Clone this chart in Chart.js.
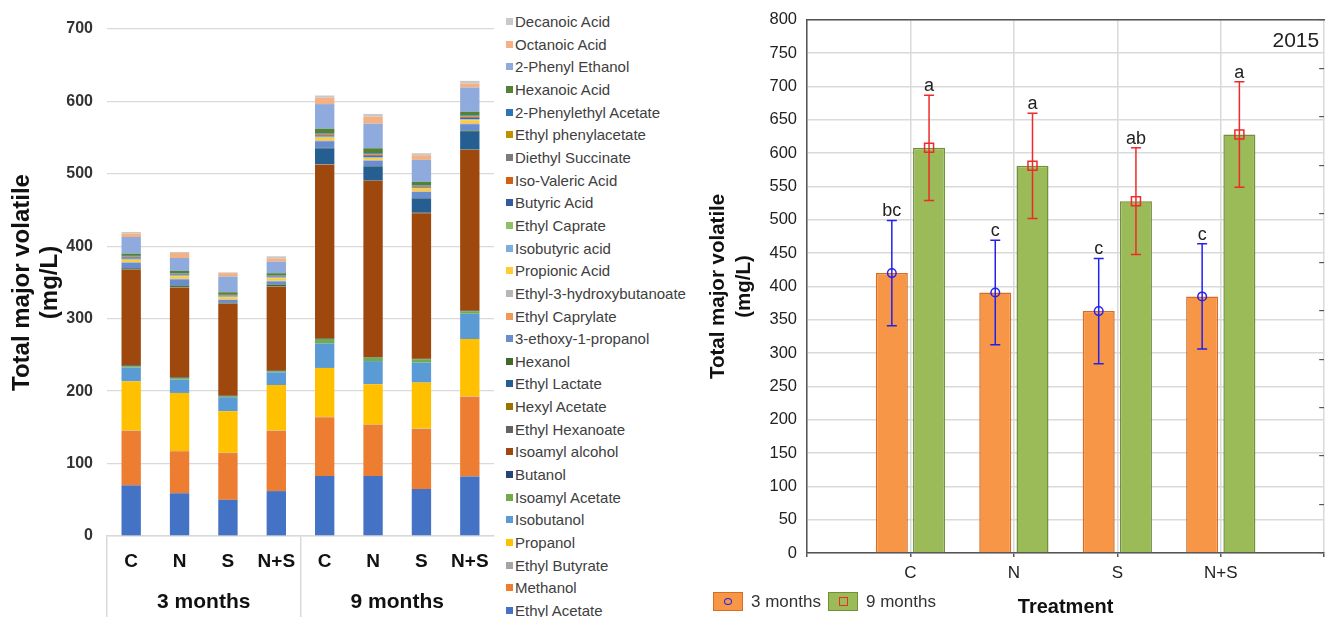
<!DOCTYPE html>
<html>
<head>
<meta charset="utf-8">
<script src="https://cdn.jsdelivr.net/npm/chart.js@4.4.1/dist/chart.umd.min.js"></script>
<style>
html,body{margin:0;padding:0;background:#fff;width:1326px;height:617px;overflow:hidden;position:relative;font-family:"Liberation Sans",Arial,sans-serif;}
#leftWrap{position:absolute;left:0;top:0;width:497px;height:617px;}
#rightWrap{position:absolute;left:690px;top:0;width:640px;height:617px;}
#legend1{position:absolute;left:506px;top:10.4px;font-size:15px;color:#404040;}
#legend1 .li{height:22.65px;display:flex;align-items:center;white-space:nowrap;}
#legend1 .sw{width:7px;height:7px;margin-right:2px;flex:none;}
.lg2box{position:absolute;top:592px;width:28px;height:17px;display:flex;align-items:center;justify-content:center;}
.lg2txt{position:absolute;top:592px;height:20px;line-height:20px;font-size:17px;color:#333;white-space:nowrap;}
</style>
</head>
<body>
<div id="leftWrap"><canvas id="c1" width="497" height="617"></canvas></div>
<div id="legend1"></div>
<div id="rightWrap"><canvas id="c2" width="640" height="617"></canvas></div>
<div id="legend2"></div>
<script>
// ---------- Left panel data ----------
const categories = ['C','N','S','N+S','C','N','S','N+S'];
const periods = ['3 months','9 months'];

const compoundNames = ['Ethyl Acetate','Methanol','Ethyl Butyrate','Propanol','Isobutanol','Isoamyl Acetate','Butanol','Isoamyl alcohol','Ethyl Hexanoate','Hexyl Acetate','Ethyl Lactate','Hexanol','3-ethoxy-1-propanol','Ethyl Caprylate','Ethyl-3-hydroxybutanoate','Propionic Acid','Isobutyric acid','Ethyl Caprate','Butyric Acid','Iso-Valeric Acid','Diethyl Succinate','Ethyl phenylacetate','2-Phenylethyl Acetate','Hexanoic Acid','2-Phenyl Ethanol','Octanoic Acid','Decanoic Acid'];
const compoundColors = ['#4472C4','#ED7D31','#A5A5A5','#FFC000','#5B9BD5','#70AD47','#264478','#9E480E','#636363','#997300','#255E91','#43682B','#698ED0','#F1975A','#B7B7B7','#FFCD33','#7CAFDD','#8CC168','#335AA1','#D26012','#7C7C7C','#BF9000','#2E75B6','#548235','#8FAADC','#F4B183','#C9C9C9'];

const ethylAcetate       = [70, 59, 50, 62, 83, 83, 65, 82];
const methanol           = [75, 58, 64.5, 83, 81, 70.5, 82.8, 110.4];
const ethylButyrate      = [0.5, 0.5, 0.4, 0.5, 0.5, 0.5, 0.5, 0.5];
const propanol           = [68, 80, 57.4, 63, 67.5, 55.5, 63.5, 79];
const isobutanol         = [19, 18.5, 19.4, 17.5, 34, 32, 27.7, 35];
const isoamylAcetate     = [2, 2, 1.4, 1.5, 6, 4.6, 4.6, 3.2];
const butanol            = [1, 0.8, 0.5, 0.7, 0.7, 0.6, 0.6, 0.9];
const isoamylAlcohol     = [132, 124, 127, 116, 240, 243.4, 201, 222];
const ethylHexanoate     = [0.3, 0.3, 0.2, 0.2, 0.3, 0.3, 0.3, 0.3];
const hexylAcetate       = [0.3, 0.3, 0.2, 0.2, 0.3, 0.3, 0.3, 0.3];
const ethylLactate       = [0.8, 0.5, 0.3, 0.4, 22, 19.3, 19.6, 24.4];
const hexanol            = [1, 2, 0.5, 2, 0.8, 0.8, 0.8, 1.4];
const ethoxyPropanol     = [7.5, 8.5, 4.2, 4.6, 9, 7.4, 8.3, 9.2];
const ethylCaprylate     = [0.5, 0.5, 0.4, 0.4, 0.8, 0.6, 0.6, 0.8];
const ethyl3HB           = [0.5, 0.5, 0.4, 0.6, 0.6, 0.6, 0.6, 0.6];
const propionicAcid      = [3, 3.2, 3, 3.2, 3.5, 2.5, 3.5, 4.1];
const isobutyricAcid     = [1, 0.8, 0.6, 1, 1, 1, 0.8, 1.2];
const ethylCaprate       = [0.5, 0.4, 0.4, 0.3, 0.5, 0.5, 0.4, 0.5];
const butyricAcid        = [1.5, 1.2, 0.8, 1, 1.5, 1.5, 1, 1.5];
const isoValericAcid     = [0.8, 0.6, 0.5, 0.5, 1.5, 1.5, 1, 1.5];
const diethylSuccinate   = [0.5, 0.4, 0.3, 0.3, 0.5, 0.5, 0.4, 0.5];
const ethylPhenylacetate = [0.3, 0.2, 0.2, 0.2, 0.3, 0.3, 0.2, 0.3];
const phenylethylAcetate = [0.8, 0.6, 0.5, 0.5, 1, 1.2, 0.8, 1];
const hexanoicAcid       = [3, 3.2, 3.4, 3.2, 6, 6.9, 4.6, 5];
const phenylEthanol      = [23, 17.8, 21.8, 16, 34, 34, 30.4, 33.6];
const octanoicAcid       = [5, 6.9, 4.7, 4.6, 8.7, 9.7, 6.4, 5.5];
const decanoicAcid       = [2, 1.4, 1, 2.8, 3.2, 3.7, 2.8, 3.7];

const compoundValues = [ethylAcetate, methanol, ethylButyrate, propanol, isobutanol, isoamylAcetate, butanol, isoamylAlcohol, ethylHexanoate, hexylAcetate, ethylLactate, hexanol, ethoxyPropanol, ethylCaprylate, ethyl3HB, propionicAcid, isobutyricAcid, ethylCaprate, butyricAcid, isoValericAcid, diethylSuccinate, ethylPhenylacetate, phenylethylAcetate, hexanoicAcid, phenylEthanol, octanoicAcid, decanoicAcid];

const leftTicks = [0, 100, 200, 300, 400, 500, 600, 700];

// ---------- Right panel data ----------
const treatments = ['C','N','S','N+S'];
const mean3 = [420, 391, 363, 385];
const mean9 = [608, 581, 528, 628];
const sd3 = [79, 78.5, 79, 79];
const sd9 = [79, 79, 80, 79];
const letters3 = ['bc','c','c','c'];
const letters9 = ['a','a','ab','a'];
const yearLabel = '2015';

const FONT = '"Liberation Sans", Arial, sans-serif';
Chart.defaults.font.family = FONT;

// ---------- Left chart ----------
new Chart(document.getElementById('c1'), {
  type: 'bar',
  data: {
    labels: categories,
    datasets: compoundNames.map((n, i) => ({
      label: n,
      data: compoundValues[i],
      backgroundColor: compoundColors[i],
      borderWidth: 0,
      barPercentage: 0.4,
      categoryPercentage: 1,
      stack: 'total'
    }))
  },
  options: {
    responsive: false,
    animation: false,
    devicePixelRatio: 1,
    layout: { padding: { top: 29, right: 3, left: 0, bottom: 0 } },
    plugins: { legend: { display: false }, tooltip: { enabled: false } },
    scales: {
      x: {
        stacked: true, offset: true, position: 'bottom',
        grid: { offset: true, drawOnChartArea: false, drawTicks: true, tickLength: 38, lineWidth: 1.5,
                color: c => (c.index === 0 || c.index === 4) ? '#D9D9D9' : 'rgba(0,0,0,0)' },
        border: { display: true, color: '#D9D9D9', width: 1.5 },
        ticks: { padding: -23.4, color: '#111', font: { size: 19, weight: 'bold' }, autoSkip: false, maxRotation: 0 },
        afterFit: s => { s.height = 38; }
      },
      x2: {
        type: 'category', labels: periods, position: 'bottom', offset: true,
        grid: { offset: true, drawOnChartArea: false, drawTicks: true, tickLength: 44, lineWidth: 1.5,
                color: c => (c.index === 0 || c.index === 1) ? '#D9D9D9' : 'rgba(0,0,0,0)' },
        border: { display: false },
        ticks: { padding: -28.1, color: '#111', font: { size: 21, weight: 'bold' }, autoSkip: false, maxRotation: 0 },
        afterFit: s => { s.height = 43; }
      },
      y: {
        stacked: true, min: 0, max: 700,
        afterBuildTicks: s => { s.ticks = leftTicks.map(v => ({ value: v })); },
        ticks: { padding: 14, color: '#333', font: { size: 16, weight: 'bold' } },
        grid: { color: '#D9D9D9', lineWidth: 1.3, drawTicks: false },
        border: { display: false },
        title: { display: true, text: ['Total major volatile', '(mg/L)'], color: '#111',
                 font: { size: 24, weight: 'bold', lineHeight: 1.17 }, padding: { top: 8, bottom: 0 } },
        afterFit: s => { s.width = 107; }
      }
    }
  }
});

// left legend (reversed: top of stack first)
const lg1 = document.getElementById('legend1');
for (let i = compoundNames.length - 1; i >= 0; i--) {
  const row = document.createElement('div');
  row.className = 'li';
  const sw = document.createElement('span');
  sw.className = 'sw';
  sw.style.background = compoundColors[i];
  const tx = document.createElement('span');
  tx.textContent = compoundNames[i];
  row.appendChild(sw); row.appendChild(tx);
  lg1.appendChild(row);
}

// ---------- Right chart ----------
const axisLabels = [''].concat(treatments, ['']);
const pad = arr => [null].concat(arr, [null]);
const seriesSpec = [
  { sd: pad(sd3), letters: pad(letters3), color: '#2222EE', marker: 'circle' },
  { sd: pad(sd9), letters: pad(letters9), color: '#EE2A2A', marker: 'square' }
];

const errorBarPlugin = {
  id: 'errorBars',
  afterDatasetsDraw(chart) {
    const ctx = chart.ctx;
    const y = chart.scales.y;
    seriesSpec.forEach((sp, d) => {
      const meta = chart.getDatasetMeta(d);
      meta.data.forEach((bar, i) => {
        const v = chart.data.datasets[d].data[i];
        if (v === null || v === undefined) return;
        const e = sp.sd[i];
        const xp = bar.x;
        const yT = y.getPixelForValue(v + e);
        const yB = y.getPixelForValue(v - e);
        const yM = y.getPixelForValue(v);
        ctx.save();
        ctx.strokeStyle = sp.color;
        ctx.lineWidth = 1.5;
        ctx.beginPath();
        ctx.moveTo(xp, yT); ctx.lineTo(xp, yB);
        ctx.moveTo(xp - 5, yT); ctx.lineTo(xp + 5, yT);
        ctx.moveTo(xp - 5, yB); ctx.lineTo(xp + 5, yB);
        ctx.stroke();
        ctx.beginPath();
        if (sp.marker === 'circle') {
          ctx.arc(xp, yM, 4.3, 0, Math.PI * 2);
        } else {
          ctx.rect(xp - 4.5, yM - 4.5, 9, 9);
        }
        ctx.stroke();
        ctx.fillStyle = '#222';
        ctx.font = '18px ' + FONT;
        ctx.textAlign = 'center';
        ctx.textBaseline = 'alphabetic';
        ctx.fillText(sp.letters[i], xp, yT - 4);
        ctx.restore();
      });
    });
  }
};

const yearPlugin = {
  id: 'yearLabel',
  afterDraw(chart) {
    const ctx = chart.ctx, a = chart.chartArea;
    ctx.save();
    ctx.fillStyle = '#222';
    ctx.font = '21px ' + FONT;
    ctx.textAlign = 'right';
    ctx.textBaseline = 'middle';
    ctx.fillText(yearLabel, a.right - 5, a.top + 21);
    ctx.restore();
  }
};

new Chart(document.getElementById('c2'), {
  type: 'bar',
  data: {
    labels: axisLabels,
    datasets: [
      { label: periods[0], data: pad(mean3), backgroundColor: '#F79646', borderColor: '#D46E26', borderWidth: 1.5,
        categoryPercentage: 0.72, barPercentage: 0.86 },
      { label: periods[1], data: pad(mean9), backgroundColor: '#9BBB59', borderColor: '#71903A', borderWidth: 1.5,
        categoryPercentage: 0.72, barPercentage: 0.86 }
    ]
  },
  options: {
    responsive: false,
    animation: false,
    devicePixelRatio: 1,
    layout: { padding: { top: 17, right: 0, left: 0, bottom: 0 } },
    plugins: { legend: { display: false }, tooltip: { enabled: false } },
    scales: {
      x: {
        type: 'category', offset: false, position: 'bottom',
        grid: { offset: false, color: '#DADADA', lineWidth: 1.5, drawTicks: true, tickLength: 4, tickColor: '#555', tickWidth: 1.5 },
        border: { display: true, color: '#555', width: 1.5 },
        ticks: { padding: 5.8, color: '#222', font: { size: 17 }, autoSkip: false, maxRotation: 0 },
        title: { display: true, text: 'Treatment', color: '#111', font: { size: 20, weight: 'bold', lineHeight: 1 }, padding: { top: 8, bottom: 0 } },
        afterFit: s => { s.height = 64; }
      },
      xTop: {
        type: 'category', labels: axisLabels, position: 'top', offset: false,
        grid: { display: false },
        border: { display: true, color: '#555', width: 1.5 },
        ticks: { display: false },
        afterFit: s => { s.height = 0; }
      },
      y: {
        min: 0, max: 800,
        ticks: { stepSize: 50, padding: 10, color: '#222', font: { size: 16.5 } },
        grid: { color: '#DADADA', lineWidth: 1.5, drawTicks: false },
        border: { display: true, color: '#555', width: 1.5 },
        title: { display: true, text: ['Total major volatile', '(mg/L)'], color: '#111',
                 font: { size: 20.5, weight: 'bold', lineHeight: 1.3 }, padding: { top: 14.7, bottom: 0 } },
        afterFit: s => { s.width = 117; }
      },
      y2: {
        type: 'linear', position: 'right', min: 0, max: 11,
        ticks: { display: false, stepSize: 1 },
        grid: { drawOnChartArea: false, drawTicks: true, tickLength: -5, color: '#555', lineWidth: 1.2 },
        border: { display: false },
        afterFit: s => { s.width = 4; }
      }
    }
  },
  plugins: [errorBarPlugin, yearPlugin]
});

// right legend
const lg2 = document.getElementById('legend2');
const legendSpec = [
  { left: 713, fill: '#F79646', border: '#D46E26', textLeft: 751, marker: 'circle', mcolor: '#2222EE' },
  { left: 828, fill: '#9BBB59', border: '#71903A', textLeft: 866, marker: 'square', mcolor: '#EE2A2A' }
];
legendSpec.forEach((s, i) => {
  const box = document.createElement('div');
  box.className = 'lg2box';
  box.style.left = s.left + 'px';
  box.style.background = s.fill;
  box.style.border = '1.5px solid ' + s.border;
  const m = document.createElement('div');
  m.style.border = '1.5px solid ' + s.mcolor;
  if (s.marker === 'circle') { m.style.width = '6px'; m.style.height = '5px'; m.style.borderRadius = '50%'; }
  else { m.style.width = '7px'; m.style.height = '7px'; }
  box.appendChild(m);
  lg2.appendChild(box);
  const t = document.createElement('div');
  t.className = 'lg2txt';
  t.style.left = s.textLeft + 'px';
  t.textContent = periods[i];
  lg2.appendChild(t);
});
</script>
</body>
</html>
